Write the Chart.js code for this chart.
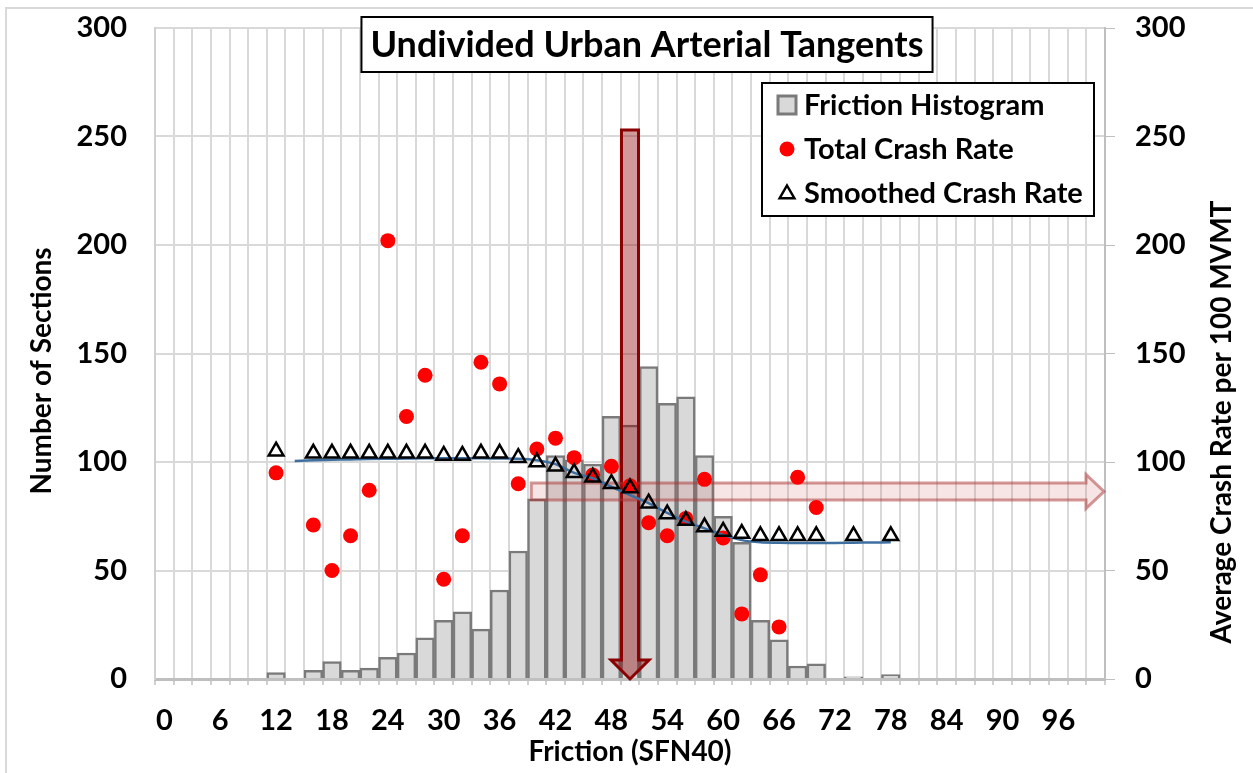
<!DOCTYPE html>
<html lang="en">
<head>
<meta charset="UTF-8">
<title>Undivided Urban Arterial Tangents</title>
<script src="https://cdn.jsdelivr.net/npm/chart.js"></script>
<style>
  html, body { margin: 0; padding: 0; background: #fff; overflow: hidden; }
  #wrap { position: relative; width: 1253px; height: 773px; }
</style>
</head>
<body>
<div id="wrap"><canvas id="chart"></canvas></div>
<script>
// Friction bins (SFN40), one bar per 2 units
const frictionLabels = ['0','2','4','6','8','10','12','14','16','18','20','22','24','26','28','30','32','34','36','38','40',
  '42','44','46','48','50','52','54','56','58','60','62','64','66','68','70','72','74','76','78','80',
  '82','84','86','88','90','92','94','96','98','100'];

// Number of sections per bin (left axis)
const sectionCounts = [null,null,null,null,null,null,3,null,4,8,4,5,10,12,19,27,31,23,41,59,83,
  103,101,99,121,117,144,127,130,103,75,63,27,18,6,7,null,1,null,2,null,
  null,null,null,null,null,null,null,null,null,null];

// Total crash rate per 100 MVMT (right axis)
const totalCrashRate = [null,null,null,null,null,null,95,null,71,50,66,87,202,121,140,46,66,146,136,90,106,
  111,102,94,98,89,72,66,74,92,65,30,48,24,93,79,null,null,null,null,null,
  null,null,null,null,null,null,null,null,null,null];

// Smoothed crash rate (right axis)
const smoothedCrashRate = [null,null,null,null,null,null,105,null,104,104,104,104,104,104,104,103,103,104,104,102,100,
  98,95,93,90,88,81,76,73,70,68,67,66,66,66,66,null,66,null,66,null,
  null,null,null,null,null,null,null,null,null,null];

// Fitted trend through the smoothed rate (right axis)
const trendCrashRate = [null,null,null,null,null,null,null,100.5,100.8,101,101.2,101.4,101.5,101.6,101.7,101.7,101.7,101.7,101.6,101.5,100.8,
  99,95,92.5,88.6,84.8,81,76.5,72.5,69.4,66.4,64,63,62.8,62.7,62.7,62.7,62.8,62.9,63,null,
  null,null,null,null,null,null,null,null,null,null];

const yTicks = [0, 50, 100, 150, 200, 250, 300];

// Annotation arrows (data units)
const focusFriction = '50';      // vertical arrow bin
const focusArrowTop = 253;       // sections axis
const rateArrowLevel = 86.4;     // crash rate axis
const rateArrowFrom = 39.4;      // friction where the horizontal arrow starts

const FONT = 'Lato, "Open Sans", sans-serif';

function drawArrows(chart) {
  const { ctx, chartArea } = chart;
  const x = chart.scales.x, y = chart.scales.y, y1 = chart.scales.y1;

  // vertical arrow down to the axis
  const cx = x.getPixelForValue(frictionLabels.indexOf(focusFriction));
  const top = y.getPixelForValue(focusArrowTop);
  const bottom = y.getPixelForValue(0);
  const sw = 8.5, hw = 19, hh = 19;
  ctx.save();
  ctx.beginPath();
  ctx.moveTo(cx - sw, top);
  ctx.lineTo(cx + sw, top);
  ctx.lineTo(cx + sw, bottom - hh);
  ctx.lineTo(cx + hw, bottom - hh);
  ctx.lineTo(cx, bottom);
  ctx.lineTo(cx - hw, bottom - hh);
  ctx.lineTo(cx - sw, bottom - hh);
  ctx.closePath();
  ctx.fillStyle = 'rgba(139,0,0,0.4)';
  ctx.fill();
  ctx.lineWidth = 3;
  ctx.lineJoin = 'miter';
  ctx.strokeStyle = '#8b0000';
  ctx.stroke();

  // horizontal arrow to the right axis
  const x0 = x.getPixelForValue(rateArrowFrom / 2);
  const x1 = chartArea.right - 1;
  const cy = y1.getPixelForValue(rateArrowLevel);
  const sh = 8.5, hl = 18, hv = 17;
  ctx.beginPath();
  ctx.moveTo(x0, cy - sh);
  ctx.lineTo(x1 - hl, cy - sh);
  ctx.lineTo(x1 - hl, cy - hv);
  ctx.lineTo(x1, cy);
  ctx.lineTo(x1 - hl, cy + hv);
  ctx.lineTo(x1 - hl, cy + sh);
  ctx.lineTo(x0, cy + sh);
  ctx.closePath();
  ctx.fillStyle = 'rgba(192,80,77,0.15)';
  ctx.fill();
  ctx.lineWidth = 3;
  ctx.strokeStyle = 'rgba(170,50,50,0.5)';
  ctx.stroke();
  ctx.restore();
}

function drawTriangle(ctx, x, y, r) {
  ctx.beginPath();
  ctx.moveTo(x, y - r);
  ctx.lineTo(x + r * 0.866, y + r * 0.5);
  ctx.lineTo(x - r * 0.866, y + r * 0.5);
  ctx.closePath();
}

function drawTitleBox(chart) {
  const { ctx } = chart;
  const text = 'Undivided Urban Arterial Tangents';
  ctx.save();
  ctx.font = 'bold 36px ' + FONT;
  const w = ctx.measureText(text).width + 18;
  const cx = 647, top = 17, h = 55;
  ctx.fillStyle = '#fff';
  ctx.fillRect(cx - w / 2, top, w, h);
  ctx.lineWidth = 2;
  ctx.strokeStyle = '#000';
  ctx.strokeRect(cx - w / 2, top, w, h);
  ctx.fillStyle = '#000';
  ctx.textAlign = 'center';
  ctx.textBaseline = 'middle';
  ctx.fillText(text, cx, top + h / 2 + 1);
  ctx.restore();
}

function drawLegend(chart) {
  const { ctx, chartArea } = chart;
  const ds = chart.data.datasets;
  const bx = chartArea.right - 343, by = chartArea.top + 55, bw = 332, bh = 133;
  ctx.save();
  ctx.fillStyle = '#fff';
  ctx.fillRect(bx, by, bw, bh);
  ctx.lineWidth = 2;
  ctx.strokeStyle = '#000';
  ctx.strokeRect(bx, by, bw, bh);
  ctx.font = 'bold 29px ' + FONT;
  ctx.textBaseline = 'middle';
  for (let i = 0; i < 3; i++) {
    const cy = by + 22 + i * 44;
    const sx = bx + 25;
    const d = ds[i];
    if (i === 0) {
      ctx.fillStyle = d.backgroundColor;
      ctx.fillRect(sx - 9, cy - 9, 18, 18);
      ctx.lineWidth = 3;
      ctx.strokeStyle = d.borderColor;
      ctx.strokeRect(sx - 9, cy - 9, 18, 18);
    } else if (i === 1) {
      ctx.fillStyle = d.backgroundColor;
      ctx.beginPath();
      ctx.arc(sx, cy, 7.5, 0, Math.PI * 2);
      ctx.fill();
    } else {
      drawTriangle(ctx, sx, cy + 1, 8.5);
      ctx.lineWidth = 2.5;
      ctx.strokeStyle = d.borderColor;
      ctx.stroke();
    }
    ctx.fillStyle = '#000';
    ctx.fillText(d.label, bx + 42, cy + 1);
  }
  ctx.restore();
}

function drawAxisTitles(chart) {
  const { ctx } = chart;
  ctx.save();
  ctx.font = 'bold 28px ' + FONT;
  ctx.fillStyle = '#000';
  ctx.textAlign = 'center';
  ctx.textBaseline = 'middle';
  ctx.translate(42, 371);
  ctx.rotate(-Math.PI / 2);
  ctx.fillText(chart.options.scales.y.title.text, 0, 0);
  ctx.restore();
  ctx.save();
  ctx.font = 'bold 28px ' + FONT;
  ctx.fillStyle = '#000';
  ctx.textAlign = 'center';
  ctx.textBaseline = 'middle';
  ctx.translate(1222, 422);
  ctx.rotate(-Math.PI / 2);
  ctx.fillText(chart.options.scales.y1.title.text, 0, 0);
  ctx.restore();
}

const overlay = {
  id: 'overlay',
  beforeDraw(chart) {
    // light outer frame of the original figure
    const { ctx, width, height } = chart;
    ctx.save();
    ctx.strokeStyle = '#d9d9d9';
    ctx.lineWidth = 2;
    ctx.beginPath();
    ctx.moveTo(6, height);
    ctx.lineTo(6, 8);
    ctx.lineTo(width, 8);
    ctx.stroke();
    ctx.restore();
  },
  afterDatasetDraw(chart, args) {
    if (args.index === 0) drawArrows(chart);
  },
  afterDraw(chart) {
    drawTitleBox(chart);
    drawLegend(chart);
    drawAxisTitles(chart);
  }
};

const tickFont = { family: FONT, size: 29, weight: 'bold' };

function fixVertical(width) {
  return function (s) {
    s.width = width;
    s.paddingTop = 0;
    s.paddingBottom = 0;
  };
}

new Chart(document.getElementById('chart'), {
  type: 'bar',
  data: {
    labels: frictionLabels,
    datasets: [
      {
        label: 'Friction Histogram',
        data: sectionCounts,
        yAxisID: 'y',
        backgroundColor: '#d9d9d9',
        borderColor: '#7a7a7a',
        borderWidth: 2.5,
        barPercentage: 1,
        categoryPercentage: 1,
        order: 3
      },
      {
        type: 'line',
        label: 'Total Crash Rate',
        data: totalCrashRate,
        yAxisID: 'y1',
        showLine: false,
        pointStyle: 'circle',
        pointRadius: 7.5,
        pointBorderWidth: 0,
        backgroundColor: '#ff0000',
        borderColor: '#ff0000',
        order: 2
      },
      {
        type: 'line',
        label: 'Smoothed Crash Rate',
        data: smoothedCrashRate,
        yAxisID: 'y1',
        showLine: false,
        pointStyle: 'triangle',
        pointRadius: 8.5,
        pointBorderWidth: 2.5,
        backgroundColor: 'rgba(0,0,0,0)',
        borderColor: '#000',
        order: 0
      },
      {
        type: 'line',
        label: 'Trend',
        data: trendCrashRate,
        yAxisID: 'y1',
        borderColor: '#3e6fa0',
        borderWidth: 2.5,
        pointRadius: 0,
        cubicInterpolationMode: 'monotone',
        fill: false,
        order: 1
      }
    ]
  },
  options: {
    responsive: true,
    maintainAspectRatio: false,
    animation: false,
    events: [],
    layout: { padding: { top: 28, left: 0, right: 0, bottom: 0 } },
    plugins: {
      legend: { display: false },
      tooltip: { enabled: false },
      title: { display: false }
    },
    scales: {
      x: {
        type: 'category',
        offset: true,
        afterFit(s) { s.height = 94; s.paddingLeft = 0; s.paddingRight = 0; },
        grid: { offset: true, color: '#d9d9d9', lineWidth: 2, drawTicks: true, tickLength: 6, tickColor: '#d0d0d0' },
        border: { display: true, color: '#bfbfbf', width: 3 },
        ticks: {
          autoSkip: false,
          maxRotation: 0,
          minRotation: 0,
          padding: 18,
          color: '#000',
          font: tickFont,
          callback(v, i) { return i % 3 === 0 ? frictionLabels[i] : ''; }
        },
        title: {
          display: true,
          text: 'Friction (SFN40)',
          color: '#000',
          font: { family: FONT, size: 28, weight: 'bold' },
          padding: { top: 0, bottom: 4 }
        }
      },
      y: {
        position: 'left',
        min: 0,
        max: 300,
        afterFit: fixVertical(155),
        afterBuildTicks(s) { s.ticks = yTicks.map(v => ({ value: v })); },
        grid: { color: '#d9d9d9', lineWidth: 2, drawTicks: false },
        border: { display: true, color: '#d0d0d0', width: 2 },
        ticks: { padding: 28, color: '#000', font: tickFont },
        title: { display: false, text: 'Number of Sections' }
      },
      y1: {
        position: 'right',
        min: 0,
        max: 300,
        afterFit: fixVertical(148),
        afterBuildTicks(s) { s.ticks = yTicks.map(v => ({ value: v })); },
        grid: { drawOnChartArea: false, drawTicks: true, tickLength: 10, tickColor: '#bfbfbf' },
        border: { display: true, color: '#bfbfbf', width: 2 },
        ticks: { padding: 20, color: '#000', font: tickFont },
        title: { display: false, text: 'Average Crash Rate per 100 MVMT' }
      }
    }
  },
  plugins: [overlay]
});
</script>
</body>
</html>
